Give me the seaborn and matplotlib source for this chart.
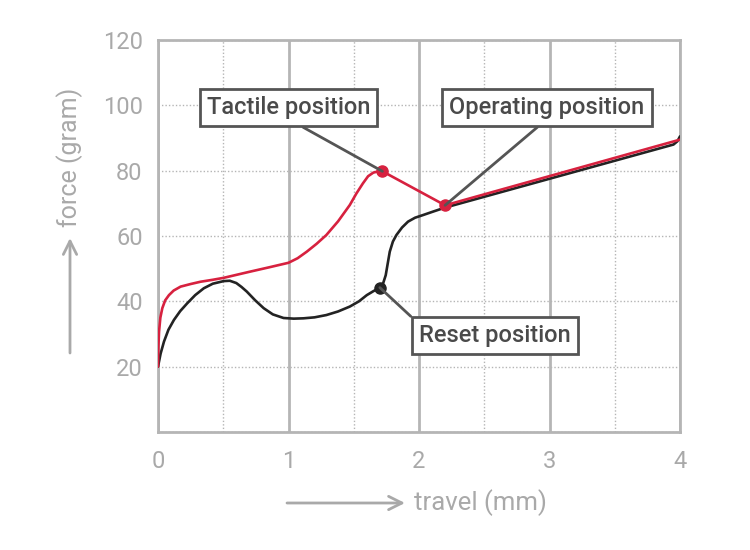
import matplotlib
matplotlib.use("Agg")
import matplotlib.pyplot as plt
import seaborn as sns
import pandas as pd
from matplotlib.ticker import MultipleLocator

# ---- data ----
press_x = [0.0, 0.003, 0.008, 0.018, 0.033, 0.055, 0.084, 0.12, 0.173, 0.25, 0.326,
           0.42, 0.504, 0.6, 0.707, 0.85, 1.0, 1.07, 1.14, 1.215, 1.29, 1.38, 1.47,
           1.52, 1.57, 1.61, 1.65, 1.69, 1.72, 2.20, 4.0]
press_y = [20.0, 26.0, 30.7, 35.0, 37.9, 40.3, 41.9, 43.3, 44.5, 45.3, 46.0,
           46.6, 47.2, 48.1, 49.1, 50.4, 51.8, 53.2, 55.2, 57.6, 60.3, 64.5, 69.5,
           73.0, 76.1, 78.3, 79.4, 79.8, 79.8, 69.4, 89.5]

release_x = [0.0, 0.02, 0.046, 0.08, 0.122, 0.17, 0.224, 0.285, 0.351, 0.42, 0.504,
             0.55, 0.6, 0.64, 0.68, 0.745, 0.81, 0.88, 0.962, 1.04, 1.115, 1.2, 1.29,
             1.38, 1.47, 1.54, 1.60, 1.65, 1.70, 1.725, 1.745, 1.76, 1.776, 1.80,
             1.827, 1.87, 1.916, 1.97, 2.03, 2.11, 2.20, 3.95, 3.98, 4.0]
release_y = [20.0, 24.0, 27.7, 31.3, 34.3, 37.0, 39.4, 41.9, 44.0, 45.4, 46.2,
             46.3, 45.6, 44.4, 43.0, 40.3, 37.9, 36.0, 34.9, 34.7, 34.8, 35.1, 35.8,
             36.9, 38.4, 40.0, 41.9, 43.1, 44.2, 45.5, 48.0, 51.5, 55.2, 58.3,
             60.3, 62.6, 64.4, 65.6, 66.4, 67.5, 68.7, 88.0, 89.0, 90.5]

point_labels = ["Tactile position", "Operating position", "Reset position"]
point_x = [1.72, 2.20, 1.70]
point_y = [79.8, 69.4, 44.2]
label_x = [1.0, 2.98, 2.58]
label_y = [99.3, 99.3, 29.6]

x_ticks = [0, 1, 2, 3, 4]
y_ticks = [0, 20, 40, 60, 80, 100, 120]
y_tick_labels = ["", "20", "40", "60", "80", "100", "120"]

RED = "#d7213f"
BLACK = "#232323"
GRID = "#b5b5b5"
TICKTXT = "#a9a9a9"
BOXC = "#555555"

sns.set_theme(style="white")
plt.rcParams["font.family"] = ["Roboto", "DejaVu Sans"]

fig = plt.figure(figsize=(7.5, 5.5), dpi=100)
ax = fig.add_axes([158 / 750, 1 - 432 / 550, (680 - 158) / 750, (432 - 40) / 550])

df_p = pd.DataFrame({"x": press_x, "y": press_y})
df_r = pd.DataFrame({"x": release_x, "y": release_y})
sns.lineplot(data=df_r, x="x", y="y", sort=False, color=BLACK, lw=1.9, ax=ax, zorder=3)
sns.lineplot(data=df_p, x="x", y="y", sort=False, color=RED, lw=1.9, ax=ax, zorder=4)

ax.set_xlim(0, 4)
ax.set_ylim(0, 120)
ax.set_xticks(x_ticks)
ax.set_yticks(y_ticks)
ax.set_yticklabels(y_tick_labels)
ax.xaxis.set_minor_locator(MultipleLocator(0.5))
ax.set_xlabel("")
ax.set_ylabel("")

ax.grid(False)
ax.grid(axis="x", which="major", color=GRID, lw=2.0, ls="-", zorder=0)
ax.grid(axis="x", which="minor", color=GRID, lw=1.0, ls=(0, (1, 1.5)), zorder=0)
ax.grid(axis="y", which="major", color=GRID, lw=1.0, ls=(0, (1, 1.5)), zorder=0)
ax.set_axisbelow(True)

for s in ["left", "bottom", "top", "right"]:
    ax.spines[s].set_visible(True)
    ax.spines[s].set_color(GRID)
    ax.spines[s].set_linewidth(2.0)

ax.tick_params(axis="both", which="major", length=9, width=2.0, color=GRID,
               labelcolor=TICKTXT, labelsize=17, direction="out", pad=4)
ax.tick_params(axis="x", which="minor", length=8, width=0.8, color="#d0d0d0", direction="out")
ax.tick_params(axis="y", which="major", pad=2)

# markers
ax.plot(point_x[:2], point_y[:2], "o", color=RED, ms=8, zorder=6)
ax.plot(point_x[2:], point_y[2:], "o", color=BLACK, ms=8, zorder=6)

relpos = [(0.5, 0.0), (0.5, 0.0), (0.0, 1.0)]
for lab, px, py, lx, ly, rp in zip(point_labels, point_x, point_y, label_x, label_y, relpos):
    ax.annotate(lab, xy=(px, py), xytext=(lx, ly), ha="center", va="center",
                fontsize=17, fontweight="medium", color="#4a4a4a", zorder=7,
                bbox=dict(boxstyle="square,pad=0.3", fc="white", ec=BOXC, lw=2),
                arrowprops=dict(arrowstyle="-", color=BOXC, lw=2, shrinkA=0, shrinkB=0,
                                relpos=rp))

# axis labels with arrows
ax.annotate("", xy=(405 / 750, 1 - 503 / 550), xytext=(287 / 750, 1 - 503 / 550),
            xycoords="figure fraction", textcoords="figure fraction",
            arrowprops=dict(arrowstyle="->", color=TICKTXT, lw=2, mutation_scale=24,
                            shrinkA=0, shrinkB=0), annotation_clip=False)
fig.text(414 / 750, 1 - 503 / 550, "travel (mm)", ha="left", va="center",
         fontsize=18.5, color=TICKTXT)
ax.annotate("", xy=(70 / 750, 1 - 238 / 550), xytext=(70 / 750, 1 - 353 / 550),
            xycoords="figure fraction", textcoords="figure fraction",
            arrowprops=dict(arrowstyle="->", color=TICKTXT, lw=2, mutation_scale=24,
                            shrinkA=0, shrinkB=0), annotation_clip=False)
fig.text(70 / 750, 1 - 157 / 550, "force (gram)", ha="center", va="center",
         rotation=90, fontsize=18, color=TICKTXT)

fig.savefig("out.png", dpi=100, facecolor="white")
